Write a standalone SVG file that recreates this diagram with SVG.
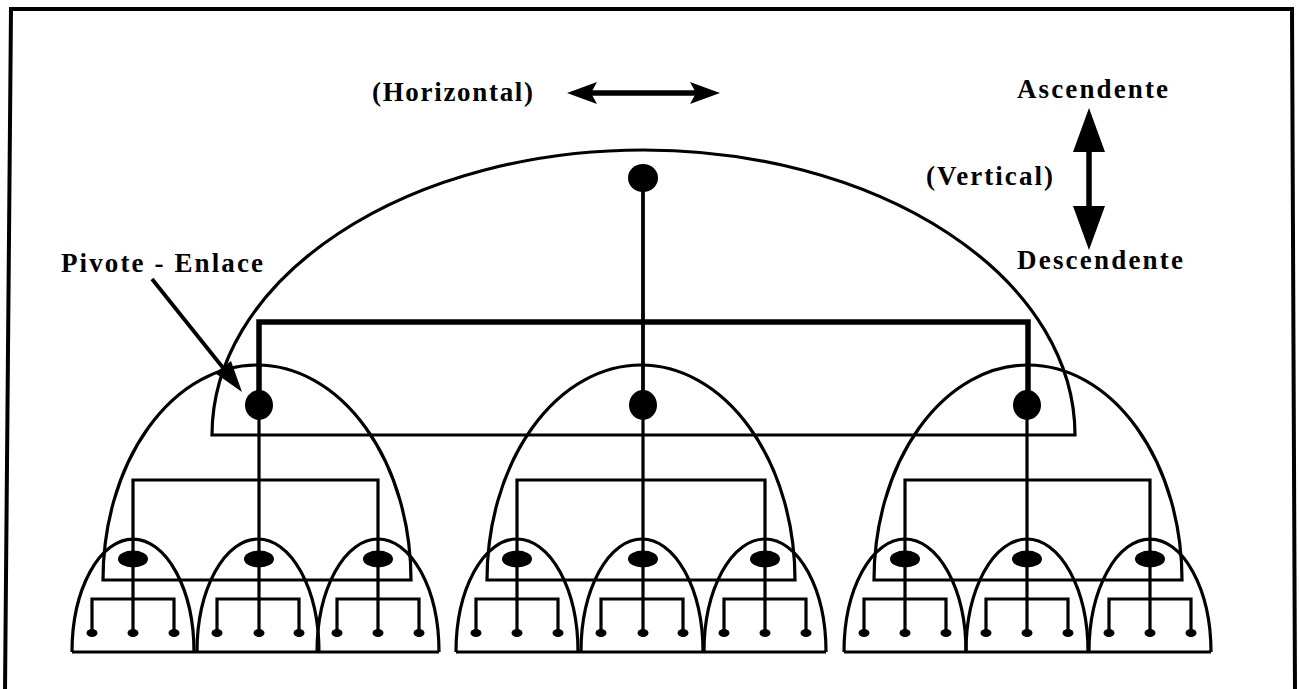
<svg xmlns="http://www.w3.org/2000/svg" width="1299" height="689" viewBox="0 0 1299 689">
<style>
.ln{fill:none;stroke:#000;stroke-width:3.2;stroke-linejoin:miter}
.th{fill:none;stroke:#000;stroke-width:5.5}
.md{fill:none;stroke:#000;stroke-width:3.8}
.dot{fill:#000}
.lbl{font-family:"Liberation Serif","Times New Roman",serif;font-weight:bold;font-size:27px;fill:#000}
</style>
<rect width="1299" height="689" fill="#fff"/>
<g id="frame"><path class="th" d="M5,692 L11,9 L1292,9 L1295,692" style="stroke-width:4"/></g>

<g id="labels">
<text class="lbl" x="372" y="101" textLength="161" lengthAdjust="spacing">(Horizontal)</text>
<text class="lbl" x="1017" y="98" textLength="151" lengthAdjust="spacing">Ascendente</text>
<text class="lbl" x="926" y="185" textLength="127" lengthAdjust="spacing">(Vertical)</text>
<text class="lbl" x="1017" y="269" textLength="166" lengthAdjust="spacing">Descendente</text>
<text class="lbl" x="61" y="272" textLength="202" lengthAdjust="spacing">Pivote - Enlace</text>
</g>

<g id="arches">
<path id="arch-top" class="ln" d="M212,435 A431.5,285 0 0 1 1075,435 Z"/>
<path id="dome-left" class="ln" d="M103,580 A154,215 0 0 1 411,580 Z"/>
<path id="dome-center" class="ln" d="M487,580 A154,215 0 0 1 795,580 Z"/>
<path id="dome-right" class="ln" d="M874,580 A154,215 0 0 1 1182,580 Z"/>
<g id="small-arches-left" class="ln">
<path d="M72,652 A61,113 0 0 1 194,652"/>
<path d="M197,652 A61,113 0 0 1 319,652"/>
<path d="M317,652 A61,113 0 0 1 439,652"/>
<path d="M72,652 H439"/>
</g>
<g id="small-arches-center" class="ln">
<path d="M456,652 A61,113 0 0 1 578,652"/>
<path d="M581,652 A61,113 0 0 1 703,652"/>
<path d="M704,652 A61,113 0 0 1 826,652"/>
<path d="M456,652 H826"/>
</g>
<g id="small-arches-right" class="ln">
<path d="M844,652 A61,113 0 0 1 966,652"/>
<path d="M966,652 A61,113 0 0 1 1088,652"/>
<path d="M1089,652 A61,113 0 0 1 1211,652"/>
<path d="M844,652 H1211"/>
</g>
</g>

<g id="connectors">
<path class="md" d="M643,178 V405"/>
<path class="th" d="M259,405 V322 H1028 V405"/>
<g class="ln">
<!-- cluster left -->
<path d="M259,405 V633"/>
<path d="M133,633 V480 H378 V633"/>
<path d="M92,633 V599 H174 V633"/>
<path d="M217,633 V599 H299 V633"/>
<path d="M337,633 V599 H419 V633"/>
<!-- cluster center -->
<path d="M643,405 V633"/>
<path d="M517,633 V480 H765 V633"/>
<path d="M476,633 V599 H558 V633"/>
<path d="M601,633 V599 H683 V633"/>
<path d="M724,633 V599 H806 V633"/>
<!-- cluster right -->
<path d="M1027,405 V633"/>
<path d="M905,633 V480 H1150 V633"/>
<path d="M864,633 V599 H946 V633"/>
<path d="M986,633 V599 H1068 V633"/>
<path d="M1109,633 V599 H1191 V633"/>
</g>
<!-- arrows -->
<path class="th" d="M590,93 H698"/>
<polygon class="dot" points="567,93 597,82 591,93 597,104"/>
<polygon class="dot" points="720,93 690,82 696,93 690,104"/>
<path class="th" d="M1089,145 V212"/>
<polygon class="dot" points="1089,108 1105,152 1073,152"/>
<polygon class="dot" points="1089,250 1073,206 1105,206"/>
<path class="md" d="M152,279 L228,374"/>
<polygon class="dot" points="242,392 215,373 231,361"/>
</g>

<g id="node-top"><ellipse class="dot" cx="643" cy="178" rx="15" ry="14"/></g>
<g id="node-l2-left"><ellipse class="dot" cx="259" cy="405" rx="14" ry="15"/></g>
<g id="node-l2-center"><ellipse class="dot" cx="643" cy="405" rx="14" ry="15"/></g>
<g id="node-l2-right"><ellipse class="dot" cx="1027" cy="405" rx="14" ry="15"/></g>

<g id="nodes-l3" class="dot">
<ellipse cx="133" cy="559" rx="15" ry="8.5"/><ellipse cx="259" cy="559" rx="15" ry="8.5"/><ellipse cx="378" cy="559" rx="15" ry="8.5"/>
<ellipse cx="517" cy="559" rx="15" ry="8.5"/><ellipse cx="643" cy="559" rx="15" ry="8.5"/><ellipse cx="765" cy="559" rx="15" ry="8.5"/>
<ellipse cx="905" cy="559" rx="15" ry="8.5"/><ellipse cx="1027" cy="559" rx="15" ry="8.5"/><ellipse cx="1150" cy="559" rx="15" ry="8.5"/>
</g>

<g id="leaves" class="dot">
<ellipse cx="92" cy="633" rx="5.5" ry="4"/><ellipse cx="133" cy="633" rx="5.5" ry="4"/><ellipse cx="174" cy="633" rx="5.5" ry="4"/>
<ellipse cx="217" cy="633" rx="5.5" ry="4"/><ellipse cx="259" cy="633" rx="5.5" ry="4"/><ellipse cx="299" cy="633" rx="5.5" ry="4"/>
<ellipse cx="337" cy="633" rx="5.5" ry="4"/><ellipse cx="378" cy="633" rx="5.5" ry="4"/><ellipse cx="419" cy="633" rx="5.5" ry="4"/>
<ellipse cx="476" cy="633" rx="5.5" ry="4"/><ellipse cx="517" cy="633" rx="5.5" ry="4"/><ellipse cx="558" cy="633" rx="5.5" ry="4"/>
<ellipse cx="601" cy="633" rx="5.5" ry="4"/><ellipse cx="643" cy="633" rx="5.5" ry="4"/><ellipse cx="683" cy="633" rx="5.5" ry="4"/>
<ellipse cx="724" cy="633" rx="5.5" ry="4"/><ellipse cx="765" cy="633" rx="5.5" ry="4"/><ellipse cx="806" cy="633" rx="5.5" ry="4"/>
<ellipse cx="864" cy="633" rx="5.5" ry="4"/><ellipse cx="905" cy="633" rx="5.5" ry="4"/><ellipse cx="946" cy="633" rx="5.5" ry="4"/>
<ellipse cx="986" cy="633" rx="5.5" ry="4"/><ellipse cx="1027" cy="633" rx="5.5" ry="4"/><ellipse cx="1068" cy="633" rx="5.5" ry="4"/>
<ellipse cx="1109" cy="633" rx="5.5" ry="4"/><ellipse cx="1150" cy="633" rx="5.5" ry="4"/><ellipse cx="1191" cy="633" rx="5.5" ry="4"/>
</g>
</svg>
